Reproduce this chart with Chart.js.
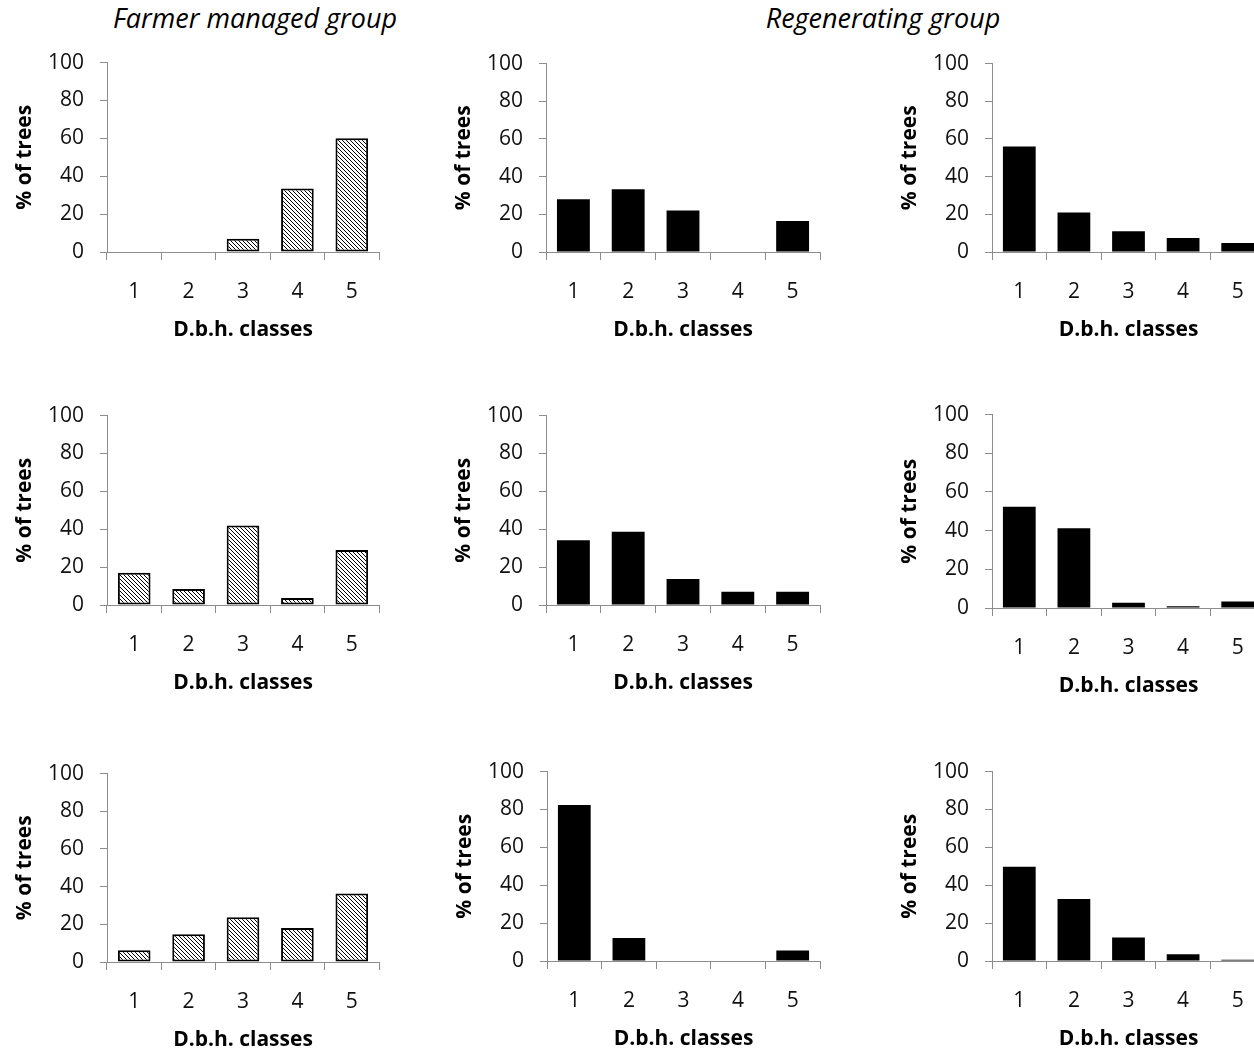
<!DOCTYPE html>
<html>
<head>
<meta charset="utf-8">
<script src="https://cdn.jsdelivr.net/npm/chart.js@4.4.0/dist/chart.umd.min.js"></script>
<style>
  html, body { margin: 0; padding: 0; background: #fff; overflow: hidden; width: 1254px; height: 1052px; }
  canvas { position: absolute; }
  .grupo { position: absolute; top: 4px; font-family: 'Open Sans', sans-serif; font-style: italic;
           font-size: 27px; line-height: 1; color: #000; white-space: nowrap; transform: translateX(-50%); }
</style>
</head>
<body>
<div class="grupo" style="left:255px">Farmer managed group</div>
<div class="grupo" style="left:883px">Regenerating group</div>

<script>
// Clases de diámetro (eje X) y marcas del eje Y
const categories = ['1', '2', '3', '4', '5'];
const yTicks = [0, 20, 40, 60, 80, 100];

// Grupo manejado por agricultores (columna izquierda)
const farmerRow1 = [0, 0, 7, 33.5, 60];
const farmerRow2 = [17, 8.5, 42, 3.7, 29];
const farmerRow3 = [6.2, 14.7, 23.7, 18, 36.3];

// Grupo en regeneración (columna central)
const regenMidRow1 = [28, 33.3, 22, 0, 16.5];
const regenMidRow2 = [34.2, 38.7, 13.7, 7, 7];
const regenMidRow3 = [82.4, 12.2, 0, 0, 5.5];

// Grupo en regeneración (columna derecha)
const regenRightRow1 = [56, 21, 11, 7.4, 4.8];
const regenRightRow2 = [52.4, 41.2, 2.7, 0.9, 3.4];
const regenRightRow3 = [49.7, 32.8, 12.4, 3.5, 0.7];

// Tamaños fijos del eje Y y del eje X dentro de cada canvas
const ANCHO_EJE_Y = 107;
const ALTO_EJE_X = 92;
const PAD_TOP = 14;   // estimación inicial del espacio sobre la etiqueta "100"
const PAD_RIGHT = 3;

// Relleno rayado para las barras del grupo de agricultores
function rayado() {
  const t = 4;
  const c = document.createElement('canvas');
  c.width = t; c.height = t;
  const g = c.getContext('2d');
  g.fillStyle = '#fff';
  g.fillRect(0, 0, t, t);
  g.strokeStyle = '#000';
  g.lineWidth = 1;
  g.beginPath();
  g.moveTo(-1, -1); g.lineTo(t + 1, t + 1);
  g.moveTo(-1, t - 1); g.lineTo(1, t + 1);
  g.moveTo(t - 1, -1); g.lineTo(t + 1, 1);
  g.stroke();
  return g.createPattern(c, 'repeat');
}

const fuente = "'Open Sans', sans-serif";
const grisEje = '#8c8c8c';

function panel(valores, rayada, ejeX, arriba, abajo, derecha) {
  const canvas = document.createElement('canvas');
  const w = Math.round(derecha - ejeX) + ANCHO_EJE_Y + PAD_RIGHT;
  const h = Math.round(abajo - arriba) + PAD_TOP + ALTO_EJE_X;
  canvas.width = w; canvas.height = h;
  canvas.style.width = w + 'px';
  canvas.style.height = h + 'px';
  canvas.style.left = Math.round(ejeX - ANCHO_EJE_Y) + 'px';
  canvas.style.top = Math.round(arriba - PAD_TOP) + 'px';
  document.body.appendChild(canvas);

  const chart = new Chart(canvas, {
    type: 'bar',
    data: {
      labels: categories,
      datasets: [{
        data: valores,
        backgroundColor: rayada ? rayado() : '#000',
        borderColor: '#000',
        borderWidth: rayada ? 2 : 0,
        borderSkipped: false,
        categoryPercentage: 1,
        barPercentage: 0.6
      }]
    },
    options: {
      responsive: false,
      maintainAspectRatio: false,
      animation: false,
      layout: { padding: { top: 0, right: PAD_RIGHT, left: 0, bottom: 0 } },
      plugins: { legend: { display: false }, tooltip: { enabled: false } },
      scales: {
        x: {
          grid: { drawOnChartArea: false, tickLength: 8, color: grisEje, offset: true },
          border: { color: grisEje, width: 1 },
          ticks: { font: { family: fuente, size: 21 }, color: '#111', padding: 19 },
          title: { display: true, text: 'D.b.h. classes', color: '#000',
                   font: { family: fuente, size: 21, weight: 'bold' }, padding: { top: 0, bottom: 1 } },
          afterFit: s => { s.height = ALTO_EJE_X; }
        },
        y: {
          min: yTicks[0],
          max: yTicks[yTicks.length - 1],
          afterBuildTicks: s => { s.ticks = yTicks.map(v => ({ value: v })); },
          grid: { drawOnChartArea: false, tickLength: 7, color: grisEje },
          border: { color: grisEje, width: 1 },
          ticks: { font: { family: fuente, size: 21 }, color: '#111', padding: 16 },
          title: { display: true, text: '% of trees', color: '#000',
                   font: { family: fuente, size: 21, weight: 'bold' }, padding: { top: 12, bottom: 0 } },
          afterFit: s => { s.width = ANCHO_EJE_Y; }
        }
      }
    }
  });

  // Si el área quedó más baja o más alta de lo previsto, se corrige el alto del canvas
  const alto = Math.round(chart.chartArea.top + (abajo - arriba) + ALTO_EJE_X);
  if (alto !== h) {
    canvas.style.height = alto + 'px';
    chart.resize(w, alto);
  }

  // Ajusta la posición para que el área del gráfico quede donde está en la figura
  canvas.style.top = Math.round(arriba - chart.chartArea.top) + 'px';
  canvas.style.left = Math.round(ejeX - chart.chartArea.left) + 'px';
}

// Fila superior
panel(farmerRow1, true, 107, 62.3, 252, 379);
panel(regenMidRow1, false, 546, 64, 252, 820);
panel(regenRightRow1, false, 992, 64, 252, 1265);
// Fila central
panel(farmerRow2, true, 107, 415.7, 605, 379);
panel(regenMidRow2, false, 546, 415.7, 605, 820);
panel(regenRightRow2, false, 992, 415, 608.3, 1265);
// Fila inferior
panel(farmerRow3, true, 107, 773.3, 961.7, 379);
panel(regenMidRow3, false, 547, 771.7, 960.7, 820);
panel(regenRightRow3, false, 992, 771.7, 960.7, 1265);
</script>
</body>
</html>
